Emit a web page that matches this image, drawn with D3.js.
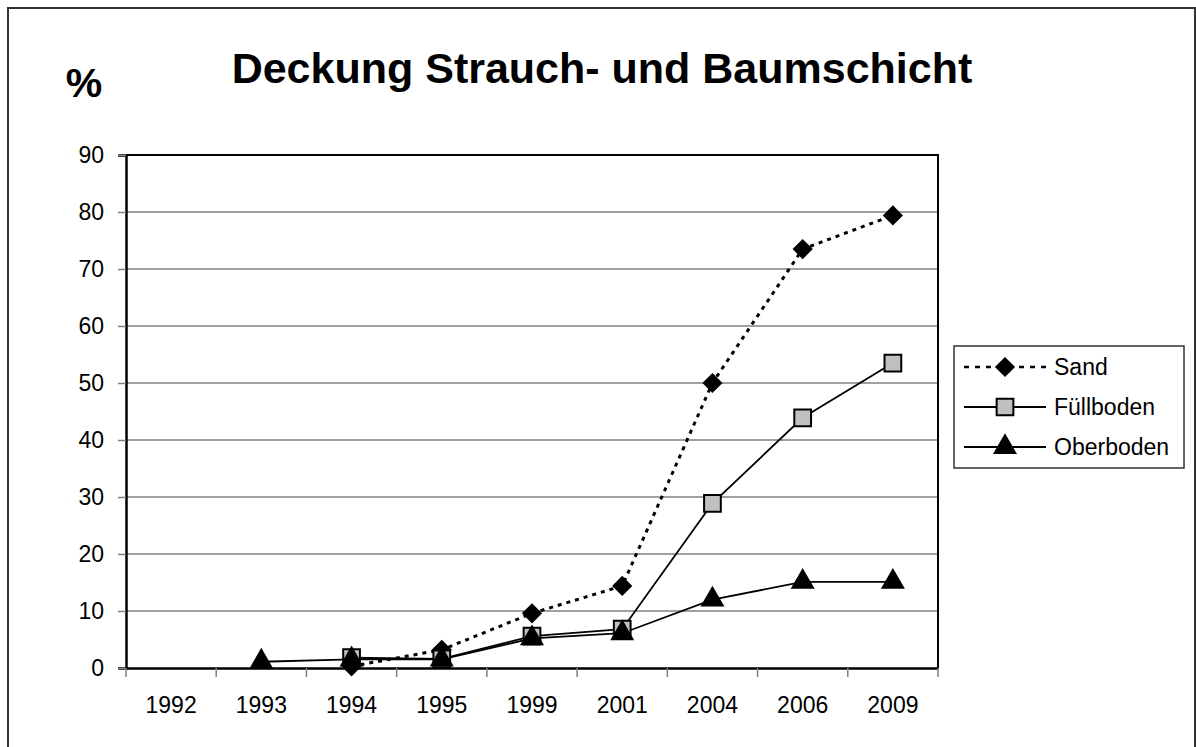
<!DOCTYPE html>
<html>
<head>
<meta charset="utf-8">
<script src="https://cdn.jsdelivr.net/npm/d3@7"></script>
<style>
  body { margin: 0; background: #fff; overflow: hidden; }
  svg { display: block; }
  text { font-family: "Liberation Sans", Arial, sans-serif; fill: #000; }
</style>
</head>
<body>
<svg id="chart"></svg>
<script>
const years = ['1992', '1993', '1994', '1995', '1999', '2001', '2004', '2006', '2009'];
const sand = [null, null, 0.3, 3.2, 9.6, 14.4, 50, 73.5, 79.4];
const fuellboden = [null, null, 1.8, 1.6, 5.6, 6.8, 28.9, 43.9, 53.5];
const oberboden = [null, 1.1, 1.5, 1.5, 5.2, 6.1, 12, 15.1, 15.1];
const yTicks = [0, 10, 20, 30, 40, 50, 60, 70, 80, 90];

const width = 1196, height = 747;
const margin = {top: 155, right: 258, bottom: 79, left: 126};
const innerWidth = width - margin.left - margin.right;
const innerHeight = height - margin.top - margin.bottom;

const svg = d3.select('#chart')
    .attr('width', width)
    .attr('height', height);

// outer frame
svg.append('path')
    .attr('d', `M8,${height} L8,8 L1195,8 L1195,${height}`)
    .attr('fill', 'none')
    .attr('stroke', '#333')
    .attr('stroke-width', 2);

svg.append('text')
    .attr('x', 602)
    .attr('y', 83)
    .attr('text-anchor', 'middle')
    .style('font-size', '43px')
    .style('font-weight', 'bold')
    .text('Deckung Strauch- und Baumschicht');

svg.append('text')
    .attr('x', 84)
    .attr('y', 97)
    .attr('text-anchor', 'middle')
    .style('font-size', '41px')
    .style('font-weight', 'bold')
    .text('%');

const g = svg.append('g')
    .attr('transform', `translate(${margin.left},${margin.top})`);

const x = d3.scaleBand().domain(years).range([0, innerWidth]);
const y = d3.scaleLinear().domain([0, 90]).range([innerHeight, 0]);

// gridlines
g.selectAll('line.grid').data(yTicks.filter(d => d > 0 && d < 90))
    .enter().append('line')
    .attr('class', 'grid')
    .attr('x1', 0).attr('x2', innerWidth)
    .attr('y1', d => y(d)).attr('y2', d => y(d))
    .attr('stroke', '#808080')
    .attr('stroke-width', 1.5);

// plot frame (top, right)
g.append('path')
    .attr('d', `M0,0 L${innerWidth},0 L${innerWidth},${innerHeight}`)
    .attr('fill', 'none')
    .attr('stroke', '#000')
    .attr('stroke-width', 2);

// y axis
const yAxis = g.append('g')
    .call(d3.axisLeft(y).tickValues(yTicks).tickSize(8).tickPadding(14));
yAxis.select('.domain').attr('stroke', '#000').attr('stroke-width', 2.5);
yAxis.selectAll('.tick line').attr('stroke', '#808080').attr('stroke-width', 1.5);
yAxis.selectAll('.tick text').style('font-size', '23px')
    .style('font-family', '"Liberation Sans", Arial, sans-serif');

// x axis with ticks at band edges
const xAxis = g.append('g')
    .attr('transform', `translate(0,${innerHeight})`)
    .call(d3.axisBottom(x).tickSize(0).tickPadding(29));
xAxis.select('.domain').attr('stroke', '#000').attr('stroke-width', 2.5);
xAxis.selectAll('.tick text').style('font-size', '23px')
    .style('font-family', '"Liberation Sans", Arial, sans-serif');
xAxis.selectAll('line.edge').data(years.concat(['end']))
    .enter().append('line')
    .attr('class', 'edge')
    .attr('x1', (d, i) => i * x.step()).attr('x2', (d, i) => i * x.step())
    .attr('y1', 0).attr('y2', 9)
    .attr('stroke', '#808080')
    .attr('stroke-width', 1.5);

const series = [
  {name: 'Sand', values: sand, dash: '4,5', width: 3, symbol: d3.symbolDiamond2, size: 260, fill: '#000'},
  {name: 'Füllboden', values: fuellboden, dash: null, width: 1.8, symbol: d3.symbolSquare, size: 280, fill: '#c0c0c0'},
  {name: 'Oberboden', values: oberboden, dash: null, width: 1.8, symbol: d3.symbolTriangle, size: 250, fill: '#000'}
];

const cx = i => x(years[i]) + x.bandwidth() / 2;

const line = d3.line()
    .defined(d => d != null)
    .x((d, i) => cx(i))
    .y(d => y(d));

function marker(sel, s) {
  sel.append('path')
    .attr('d', d3.symbol().type(s.symbol).size(s.size))
    .attr('fill', s.fill)
    .attr('stroke', s.symbol === d3.symbolSquare ? '#000' : 'none')
    .attr('stroke-width', 2);
}

series.forEach(s => {
  const path = g.append('path')
    .attr('d', line(s.values))
    .attr('fill', 'none')
    .attr('stroke', '#000')
    .attr('stroke-width', s.width);
  if (s.dash) path.attr('stroke-dasharray', s.dash);
});

series.forEach(s => {
  s.values.forEach((v, i) => {
    if (v == null) return;
    const m = g.append('g').attr('transform', `translate(${cx(i)},${y(v)})`);
    marker(m, s);
  });
});

// legend
const legend = svg.append('g').attr('transform', 'translate(954,346)');
legend.append('rect')
    .attr('width', 230).attr('height', 122)
    .attr('fill', '#fff')
    .attr('stroke', '#333')
    .attr('stroke-width', 1.5);
series.forEach((s, i) => {
  const row = legend.append('g').attr('transform', `translate(0,${21 + i * 40})`);
  const l = row.append('line')
    .attr('x1', 10).attr('x2', 92)
    .attr('stroke', '#000')
    .attr('stroke-width', s.width === 3 ? 2.5 : 1.8);
  if (s.dash) l.attr('stroke-dasharray', '5,6');
  marker(row.append('g').attr('transform', 'translate(51,0)'), s);
  row.append('text')
    .attr('x', 100).attr('y', 8)
    .style('font-size', '23px')
    .text(s.name);
});
</script>
</body>
</html>
